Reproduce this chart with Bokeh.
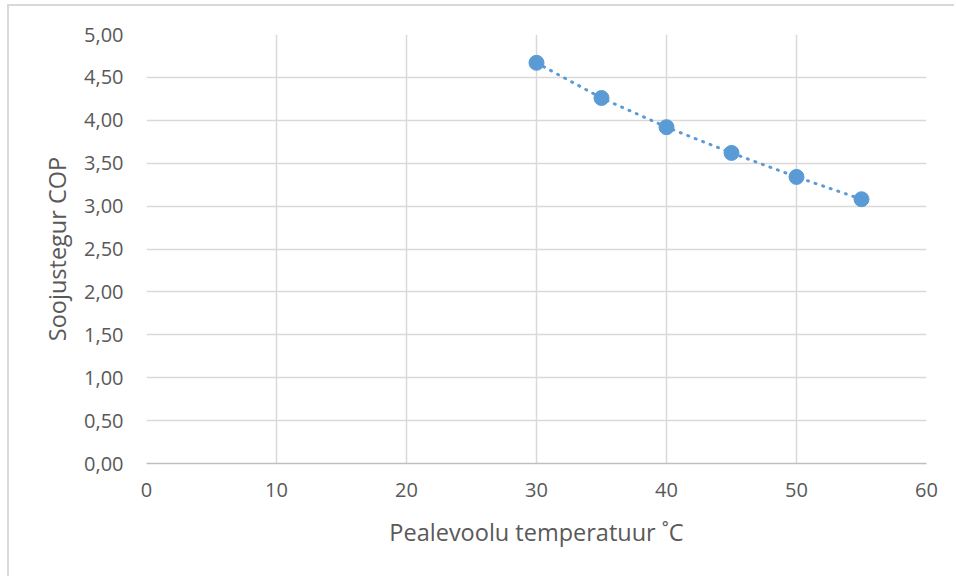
from bokeh.plotting import figure
from bokeh.models import FixedTicker
from bokeh.embed import file_html
from bokeh.resources import INLINE

# data
temps = [30, 35, 40, 45, 50, 55]
cop = [4.67, 4.26, 3.92, 3.62, 3.34, 3.08]

x_ticks = [0, 10, 20, 30, 40, 50, 60]
y_ticks = [0.0, 0.5, 1.0, 1.5, 2.0, 2.5, 3.0, 3.5, 4.0, 4.5, 5.0]
y_tick_labels = ["0,00", "0,50", "1,00", "1,50", "2,00", "2,50", "3,00", "3,50", "4,00", "4,50", "5,00"]

x_title = "Pealevoolu temperatuur ˚C"
y_title = "Soojustegur COP"

FONT = "Open Sans"
TXT = "#595959"
GRID = "#d9d9d9"
BLUE = "#5b9bd5"

p = figure(width=947, height=572, output_backend="svg", toolbar_location=None,
           x_range=(0, 60), y_range=(0, 5),
           min_border_left=137, min_border_right=30, min_border_top=28, min_border_bottom=115)
p.margin = (4, 0, 0, 7)
p.styles = {"border-left": "2px solid #d9d9d9", "border-top": "2px solid #d9d9d9"}

p.outline_line_color = None
p.background_fill_color = "white"
p.border_fill_color = "white"

p.xaxis.ticker = FixedTicker(ticks=x_ticks)
p.yaxis.ticker = FixedTicker(ticks=y_ticks)
p.yaxis.major_label_overrides = {float(t): l for t, l in zip(y_ticks, y_tick_labels)}

for ax in (p.xaxis, p.yaxis):
    ax.major_tick_line_color = None
    ax.minor_tick_line_color = None
    ax.major_label_text_font = FONT
    ax.major_label_text_font_size = "20px"
    ax.major_label_text_color = TXT
    ax.axis_label_text_font = FONT
    ax.axis_label_text_font_size = "23.5px"
    ax.axis_label_text_color = TXT
    ax.axis_label_text_font_style = "normal"

p.xaxis.axis_line_color = "#bfbfbf"
p.xaxis.axis_line_width = 1.5
p.yaxis.axis_line_color = None
p.xaxis.axis_label = x_title
p.yaxis.axis_label = y_title
p.xaxis.major_label_standoff = 13
p.yaxis.major_label_standoff = 17
p.xaxis.axis_label_standoff = 16
p.yaxis.axis_label_standoff = 8

p.xgrid.grid_line_color = GRID
p.ygrid.grid_line_color = GRID
p.xgrid.grid_line_width = 1.5
p.ygrid.grid_line_width = 1.5

p.line(temps, cop, line_color=BLUE, line_width=3, line_dash="1 7", line_cap="round")
p.scatter(temps, cop, size=15, fill_color=BLUE, line_color=BLUE)

open("out.html", "w").write(file_html(p, INLINE))
